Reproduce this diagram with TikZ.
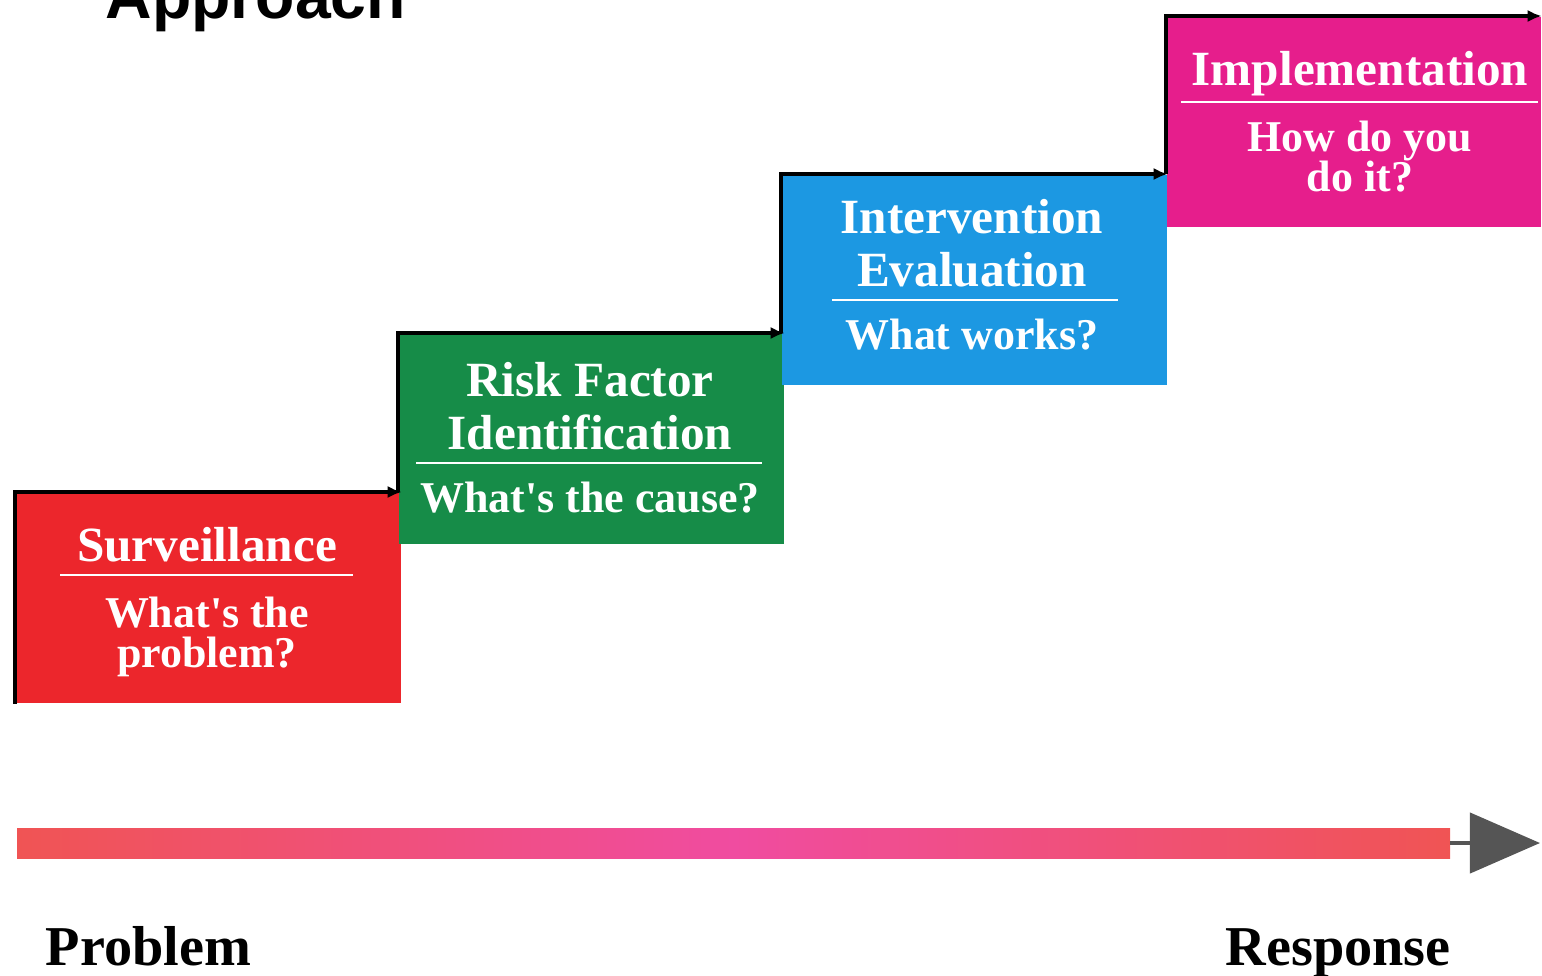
\documentclass[tikz,border=0pt]{standalone}
\usepackage{fontspec}
\setmainfont{Liberation Serif}
\newfontfamily\titlefont{Liberation Sans}
\usetikzlibrary{arrows.meta}
\definecolor{survred}{RGB}{236,38,44}
\definecolor{riskgreen}{RGB}{22,140,72}
\definecolor{evalblue}{RGB}{28,152,226}
\definecolor{implpink}{RGB}{230,30,140}
\definecolor{barred}{RGB}{240,84,84}
\definecolor{barpink}{RGB}{240,76,160}
\definecolor{tipgray}{RGB}{85,85,85}
\begin{document}
\begin{tikzpicture}[x=0.01cm,y=-0.01cm,
  stepbox/.style={rectangle,inner sep=0pt,minimum height=2.1cm,anchor=north west},
  head/.style={text=white,font=\fontsize{14}{15}\selectfont\bfseries,align=center,inner sep=0pt,anchor=south,text depth=0pt},
  ask/.style={text=white,font=\fontsize{12.5}{11.5}\selectfont\bfseries,align=center,inner sep=0pt,anchor=north},
  stair/.style={line width=1pt,-{Latex[length=4pt,width=3.5pt]}},
  rulebar/.style={white,line width=0.8pt},
  end label/.style={font=\fontsize{16}{18}\selectfont\bfseries,anchor=base west,inner sep=0pt}]

  \useasboundingbox (0,0) rectangle (1542,975);

  \node[anchor=base west,inner sep=0pt,font=\titlefont\fontsize{18.3}{22}\selectfont\bfseries] (title) at (105,18) {Approach};

  % the four steps
  \node[stepbox,fill=survred,minimum width=3.85cm] (surv) at (15,492) {};
  \node[stepbox,fill=riskgreen,minimum width=3.85cm] (risk) at (398,333) {};
  \node[stepbox,fill=evalblue,minimum width=3.85cm] (eval) at (781,174) {};
  \node[stepbox,fill=implpink,minimum width=3.74cm] (impl) at (1166,16) {};

  \draw[stair] (surv.south west) -- (surv.north west) -- (surv.north east);
  \draw[stair] (risk.west |- surv.north) -- (risk.north west) -- (risk.north east);
  \draw[stair] (eval.west |- risk.north) -- (eval.north west) -- (eval.north east);
  \draw[stair] (impl.west |- eval.north) -- (impl.north west) -- (impl.north east);

  \node[head] (survhead) at (207,562) {Surveillance};
  \draw[rulebar] (60,575) -- (353,575);
  \node[ask] (survask) at (207,596) {What\textquotesingle s the\\problem?};

  \node[head] (riskhead) at (590,450) {Risk Factor\\Identification};
  \draw[rulebar] (416,463) -- (762,463);
  \node[ask] (riskask) at (590,481) {What\textquotesingle s the cause?};

  \node[head] (evalhead) at (972,287) {Intervention\\Evaluation};
  \draw[rulebar] (832,300) -- (1118,300);
  \node[ask] (evalask) at (972,318) {What works?};

  \node[head] (implhead) at (1360,86) {Implementation};
  \draw[rulebar] (1181,102) -- (1538,102);
  \node[ask] (implask) at (1360,120) {How do you\\do it?};

  % problem to response
  \shade[left color=barred,right color=barred,middle color=barpink] (17,828) rectangle (1450,858);
  \coordinate (barend) at (1450,843);
  \coordinate (tip) at (1540,843);
  \draw[tipgray,line width=1.2pt,-{Triangle[length=0.7cm,width=0.6cm]}] (barend) -- (tip);

  \node[end label] (problem) at (45,965) {Problem};
  \node[end label] (response) at (1225,965) {Response};
\end{tikzpicture}
\end{document}
